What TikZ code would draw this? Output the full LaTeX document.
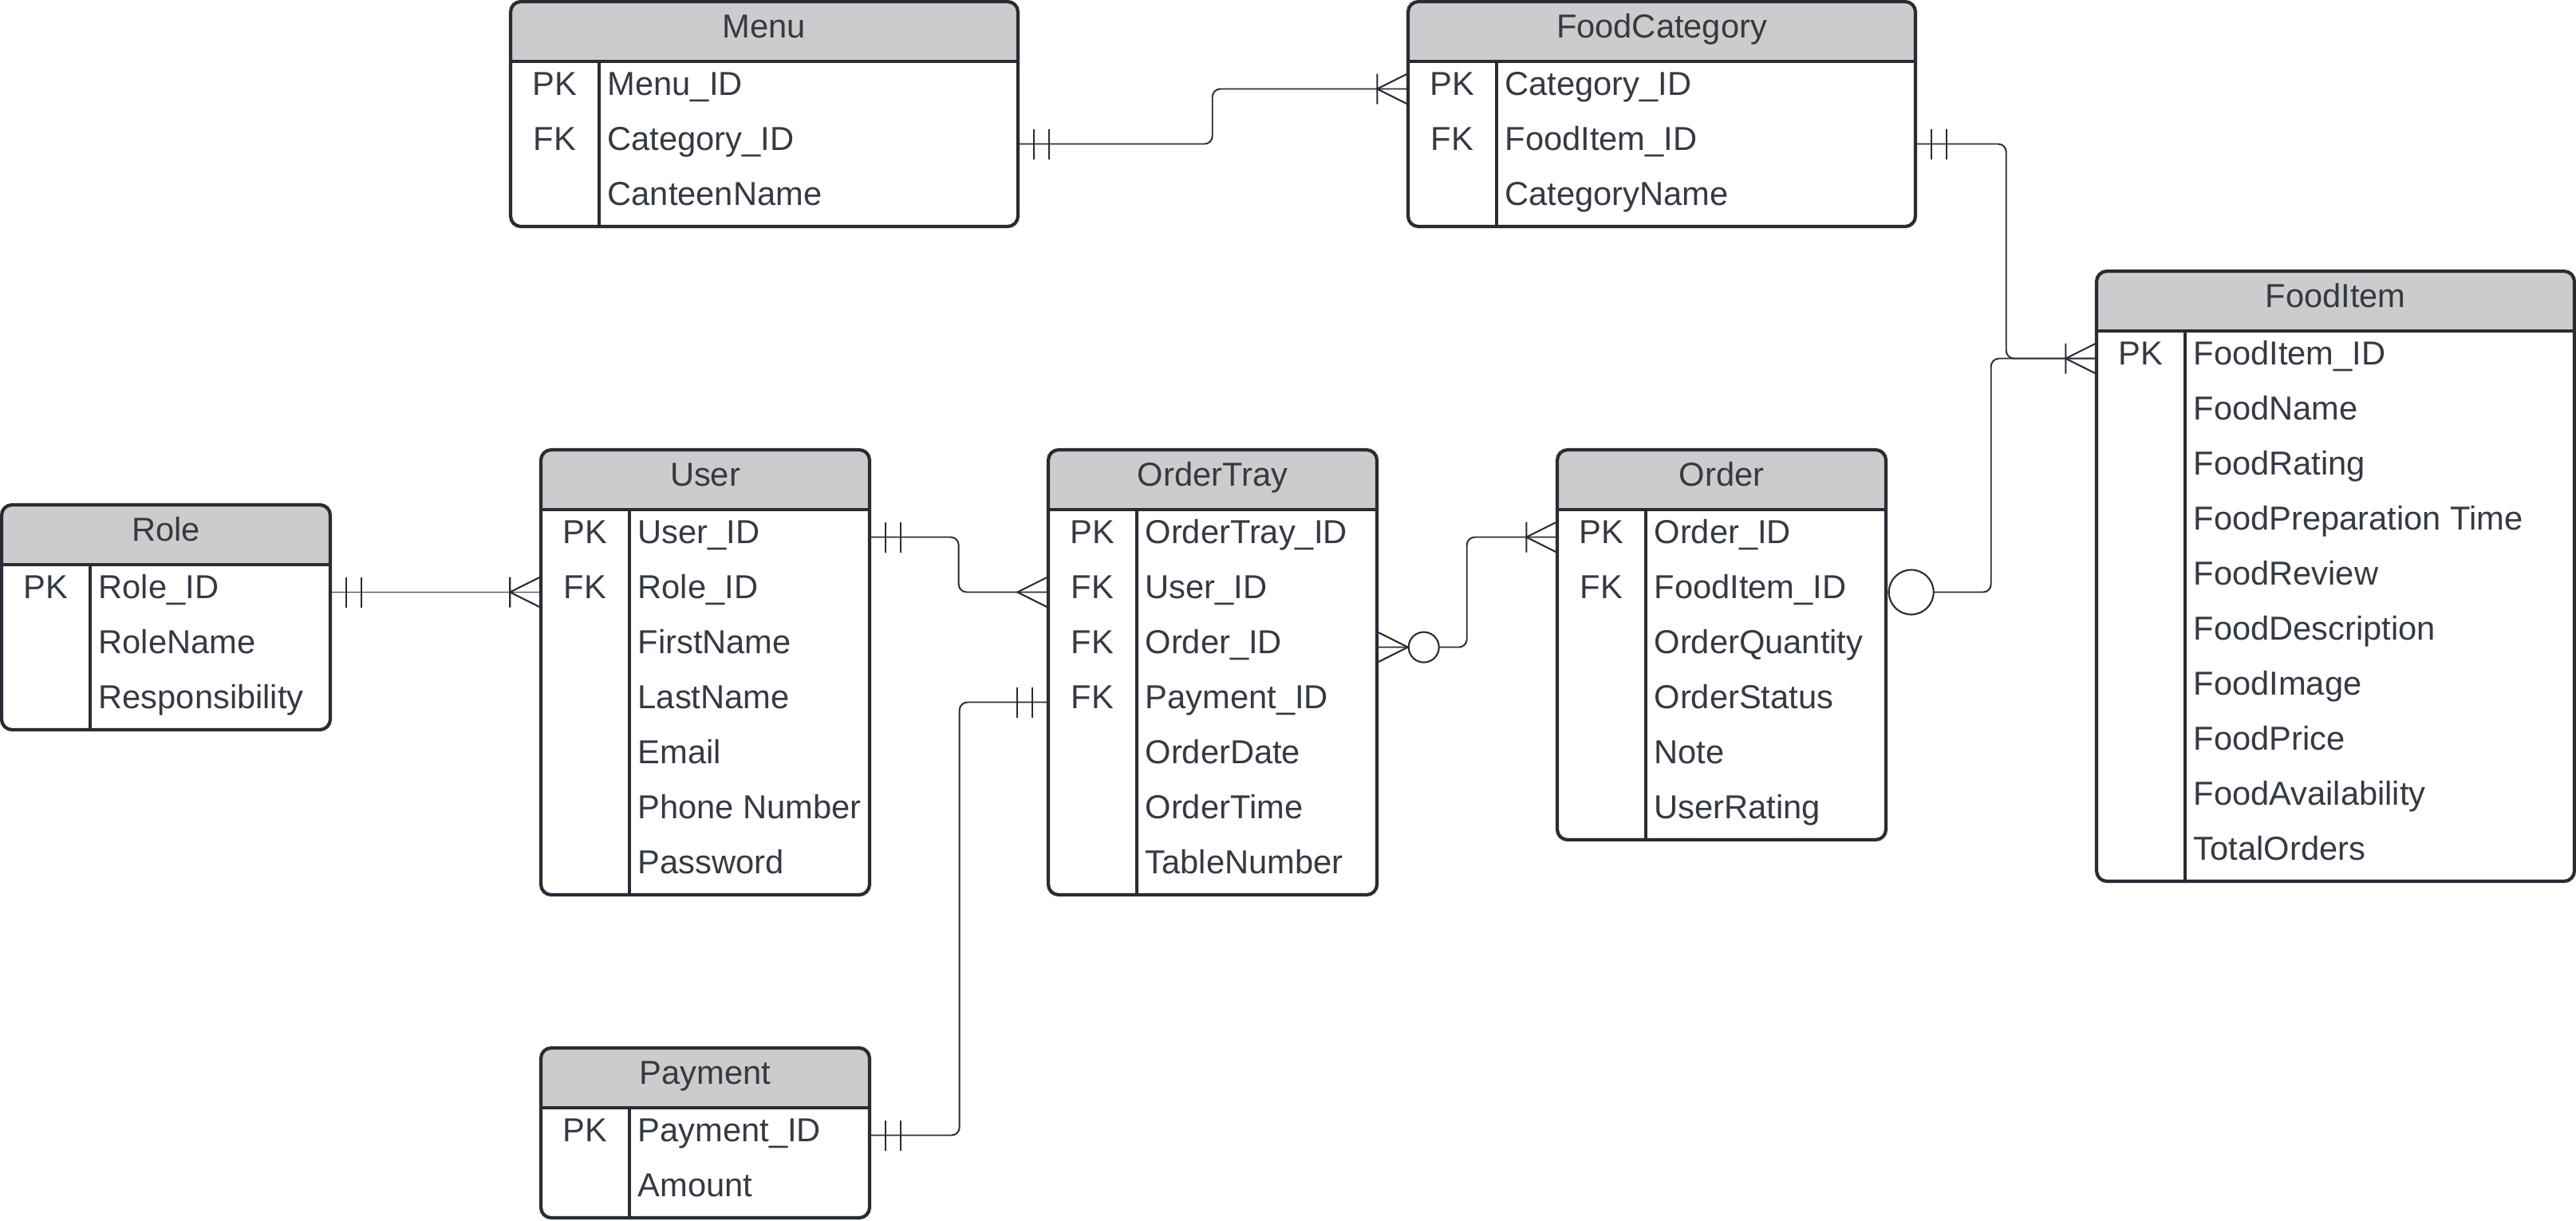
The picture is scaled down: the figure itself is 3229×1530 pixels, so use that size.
\documentclass[tikz,border=0pt]{standalone}
\usepackage{fontspec}
\setmainfont{Liberation Sans}
\definecolor{erline}{RGB}{40,44,52}
\definecolor{ertext}{RGB}{52,58,68}
\definecolor{erhead}{RGB}{204,204,204}

\tikzset{
  tablebox/.style={draw=erline, line width=1.2pt, rounded corners=1.3mm},
  tableline/.style={draw=erline, line width=0.9pt},
  ertextstyle/.style={text=ertext, font=\fontsize{11.85}{14}\selectfont, text height=8.4pt, text depth=3.6pt},
  titletext/.style={ertextstyle},
  keytext/.style={ertextstyle},
  fieldtext/.style={ertextstyle, anchor=west, inner sep=0pt},
  rowcell/.style={inner sep=0pt, minimum height=6.9mm},
  link/.style={draw=erline, line width=0.55pt, rounded corners=1mm},
  endmark/.style={draw=erline, line width=0.6pt},
  oneonly/.pic={\draw[endmark] (19,-19) -- (19,19) (38,-19) -- (38,19);},
  onemany/.pic={\draw[endmark] (38,-19) -- (38,19) (0,-19) -- (38,0) -- (0,19);},
  manyonly/.pic={\draw[endmark] (0,-19) -- (38,0) -- (0,19);},
  zeromany/.pic={\draw[endmark] (0,-19) -- (38,0) -- (0,19);
    \draw[endmark, fill=white] (58,0) circle[radius=1.9mm];},
  zeroonly/.pic={\draw[endmark, fill=white] (31,0) circle[radius=2.8mm];}
}

% #1 name, #2 x, #3 y, #4 width, #5 title, #6 rows, #7 key/field list
\newcommand{\ertable}[7]{%
  \begin{scope}
    \clip[rounded corners=1.3mm] (#2,#3) rectangle ++(#4,75+69*#6);
    \fill[erhead] (#2,#3) rectangle ++(#4,75);
  \end{scope}
  \draw[tableline] (#2,#3+75) -- ++(#4,0) (#2+111,#3+75) -- ++(0,69*#6);
  \draw[tablebox] (#2,#3) rectangle ++(#4,75+69*#6);
  \node[titletext] (#1) at (#2+#4/2,#3+37.5) {#5};
  \foreach \k/\f [count=\i] in {#7} {
    \node[rowcell, minimum width=#4*0.1mm] (#1-\i) at (#2+#4/2,#3+75+69*\i-34.5) {};
    \node[keytext] at (#2+55.5,#3+75+69*\i-34.5) {\k};
    \node[fieldtext] at (#2+121,#3+75+69*\i-34.5) {\f};
  }
}

\begin{document}
\begin{tikzpicture}[x=0.1mm, y=-0.1mm]
  \useasboundingbox (0,0) rectangle (3229,1530);

  \ertable{menu}{640}{2}{636}{Menu}{3}{PK/Menu\_ID, FK/Category\_ID, /CanteenName}
  \ertable{fcat}{1765}{2}{636}{FoodCategory}{3}{PK/Category\_ID, FK/FoodItem\_ID, /CategoryName}
  \ertable{fitem}{2628}{340}{599}{FoodItem}{10}{PK/FoodItem\_ID, /FoodName, /FoodRating,
    /FoodPreparation Time, /FoodReview, /FoodDescription, /FoodImage, /FoodPrice,
    /FoodAvailability, /TotalOrders}
  \ertable{role}{2}{633}{412}{Role}{3}{PK/Role\_ID, /RoleName, /Responsibility}
  \ertable{user}{678}{564}{412}{User}{7}{PK/User\_ID, FK/Role\_ID, /FirstName, /LastName,
    /Email, /Phone Number, /Password}
  \ertable{tray}{1314}{564}{412}{OrderTray}{7}{PK/OrderTray\_ID, FK/User\_ID, FK/Order\_ID,
    FK/Payment\_ID, /OrderDate, /OrderTime, /TableNumber}
  \ertable{order}{1952}{564}{412}{Order}{6}{PK/Order\_ID, FK/FoodItem\_ID, /OrderQuantity,
    /OrderStatus, /Note, /UserRating}
  \ertable{pay}{678}{1314}{412}{Payment}{2}{PK/Payment\_ID, /Amount}

  \draw[link] (menu-2.east) -- ++(243,0) |- (fcat-1.west);
  \draw[link] (fcat-2.east) -- ++(113,0) |- (fitem-1.west);
  \draw[link] (order-2.east) -- ++(131,0) |- (fitem-1.west);
  \draw[link] (role-1.east) -- (user-2.west);
  \draw[link] (user-1.east) -- ++(111,0) |- (tray-2.west);
  \draw[link] (pay-1.east) -- ++(112,0) |- (tray-4.west);
  \draw[link] (tray-3.east) -- ++(112,0) |- (order-1.west);

  \path (menu-2.east) pic {oneonly} (fcat-1.west) pic[xscale=-1] {onemany};
  \path (fcat-2.east) pic {oneonly} (fitem-1.west) pic[xscale=-1] {onemany};
  \path (order-2.east) pic {zeroonly};
  \path (role-1.east) pic {oneonly} (user-2.west) pic[xscale=-1] {onemany};
  \path (user-1.east) pic {oneonly} (tray-2.west) pic[xscale=-1] {manyonly};
  \path (pay-1.east) pic {oneonly} (tray-4.west) pic[xscale=-1] {oneonly};
  \path (tray-3.east) pic {zeromany} (order-1.west) pic[xscale=-1] {onemany};
\end{tikzpicture}
\end{document}
